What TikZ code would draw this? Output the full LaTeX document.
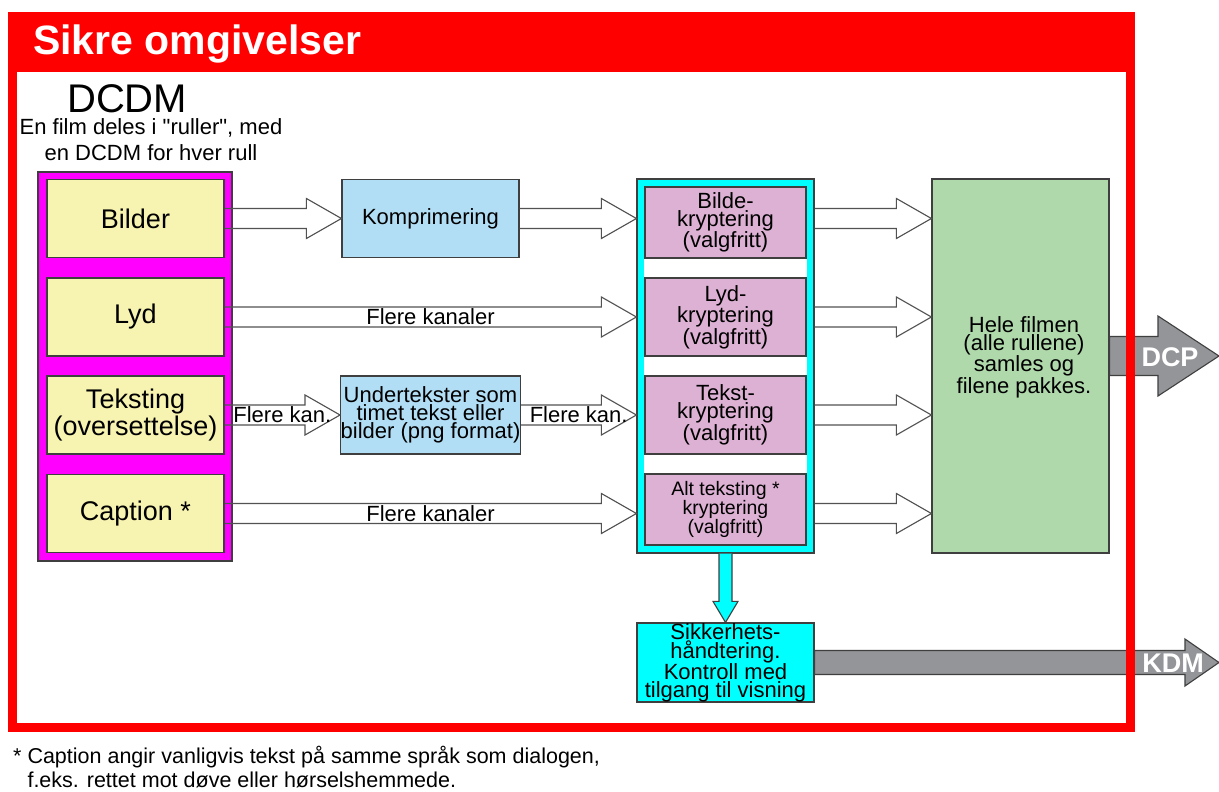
\documentclass[tikz,border=0pt]{standalone}
\usepackage{fontspec}
\setmainfont{Liberation Sans}[Ligatures=TeXOff]
\usetikzlibrary{calc}

\definecolor{sikred}{HTML}{FF0000}
\definecolor{dcdmpink}{HTML}{FF00FF}
\definecolor{kildegul}{HTML}{F7F3B1}
\definecolor{prosblaa}{HTML}{B2DEF5}
\definecolor{kryptcyan}{HTML}{00FFFF}
\definecolor{kryptrosa}{HTML}{DDB1D4}
\definecolor{pakkegronn}{HTML}{AFD8AB}
\definecolor{utgraa}{HTML}{939598}
\definecolor{kant}{HTML}{3F3F3F}

\newcommand{\fsz}[2]{\fontsize{#1}{#2}\selectfont}

% hollow arrow along one row, optional label on the shaft
\newcommand{\hollowarrow}[3][]{%
  \draw[hollow] ($(#2)+(0,-10)$) -- ($(#3)+(-35,-10)$) -- ($(#3)+(-35,-20)$)
    -- (#3) -- ($(#3)+(-35,20)$) -- ($(#3)+(-35,10)$) -- ($(#2)+(0,10)$);
  \if\relax\detokenize{#1}\relax\else
    \path (#2) -- (#3) node[midway, lbl] {#1};
  \fi
}

% filled grey arrow: from, to, shaft half, head half, head length
\newcommand{\fatarrow}[5]{%
  \draw[solidarr] ($(#1)+(0,-#3)$) -- ($(#2)+(-#5,-#3)$) -- ($(#2)+(-#5,-#4)$)
    -- (#2) -- ($(#2)+(-#5,#4)$) -- ($(#2)+(-#5,#3)$) -- ($(#1)+(0,#3)$) -- cycle;
}

\begin{document}
\begin{tikzpicture}
  [
    x=1pt, y=-1pt,
    box/.style={draw=kant, line width=1.2pt, inner sep=0pt, align=center, font=\fsz{22}{18}},
    kilde/.style={box, fill=kildegul, minimum width=177pt, minimum height=78pt, font=\fsz{27}{23}},
    prosess/.style={box, fill=prosblaa, minimum width=177pt, minimum height=78pt},
    kryptboks/.style={box, fill=kryptrosa, minimum width=161pt},
    hollow/.style={draw=kant!90, line width=1.1pt},
    solidarr/.style={draw=kant, fill=utgraa, line width=1.1pt},
    lbl/.style={inner sep=0pt, font=\fsz{22}{22}},
    utlbl/.style={inner sep=0pt, text=white, font=\bfseries\fsz{27}{27}}
  ]
  \useasboundingbox[fill=white] (0,0) rectangle (1219,792);

  % DCDM
  \node [anchor=base west, inner sep=0pt, font=\fsz{40}{40}] (dcdmtittel) at (67,112) {DCDM};
  \node [align=center, inner sep=0pt, font=\fsz{22}{26}] (dcdmtekst) at (151,140)
    {En film deles i "ruller", med\\en DCDM for hver rull};
  \node [draw=kant, fill=dcdmpink, line width=1.2pt, minimum width=194pt, minimum height=389pt]
    (dcdmramme) at (135,366.5) {};
  \node [kilde] (bilder) at (135.5,218.5) {Bilder};
  \node [kilde] (lyd) at (135.5,317) {Lyd};
  \node [kilde] (teksting) at (135.5,415) {Teksting\\(oversettelse)};
  \node [kilde] (caption) at (135.5,513.5) {Caption *};

  % behandling
  \node [prosess] (kompr) at (430.5,218.5) {Komprimering};
  \node [prosess] (undertekst) at (430.5,415) {Undertekster som\\timet tekst eller\\bilder (png format)};

  % kryptering
  \node [draw=kant, fill=kryptcyan, line width=1.2pt, minimum width=177pt, minimum height=374pt]
    (krypt) at (725.5,366) {};
  \fill [white] ($(krypt.north west)+(8,8)$) rectangle ($(krypt.south east)+(-8,-8)$);
  \node [kryptboks, minimum height=71pt] (bildekr) at (725.5,222.5) {Bilde-\\kryptering\\(valgfritt)};
  \node [kryptboks, minimum height=78pt] (lydkr) at (725.5,317) {Lyd-\\kryptering\\(valgfritt)};
  \node [kryptboks, minimum height=78pt] (tekstkr) at (725.5,415) {Tekst-\\kryptering\\(valgfritt)};
  \node [kryptboks, minimum height=71pt, font=\fsz{19.5}{16}] (altkr) at (725.5,509.5)
    {Alt teksting *\\kryptering\\(valgfritt)};

  % pakking
  \node [box, fill=pakkegronn, minimum width=177pt, minimum height=374pt] (pakke) at (1020.5,366) {};
  \node [align=center, inner sep=0pt, font=\fsz{22}{18}] (pakketekst) at (1024,357)
    {Hele filmen\\(alle rullene)\\samles og\\filene pakkes.};

  % sikkerhet
  \node [box, fill=kryptcyan, minimum width=177pt, minimum height=79pt, font=\fsz{22}{17.7}]
    (sikker) at (725.5,662.5) {Sikkerhets-\\håndtering.\\Kontroll med\\tilgang til visning};

  % piler
  \hollowarrow{bilder.east}{kompr.west}
  \hollowarrow{kompr.east}{krypt.west |- kompr.east}
  \hollowarrow[Flere kanaler]{lyd.east}{krypt.west |- lyd.east}
  \hollowarrow[Flere kan.]{teksting.east}{undertekst.west}
  \hollowarrow[Flere kan.]{undertekst.east}{krypt.west |- undertekst.east}
  \hollowarrow[Flere kanaler]{caption.east}{krypt.west |- caption.east}
  \foreach \rad in {bilder,lyd,teksting,caption} {
    \hollowarrow{krypt.east |- \rad.east}{pakke.west |- \rad.east}
  }
  \draw [draw=kant, fill=kryptcyan, line width=1.1pt]
    ($(krypt.south)+(-6.5,0)$) -- ($(sikker.north)+(-6.5,-21)$) -- ($(sikker.north)+(-12.5,-21)$)
    -- (sikker.north) -- ($(sikker.north)+(12.5,-21)$) -- ($(sikker.north)+(6.5,-21)$)
    -- ($(krypt.south)+(6.5,0)$);

  % ut
  \coordinate (dcpspiss) at (1219,356);
  \coordinate (kdmspiss) at (1219,662.5);
  \fatarrow{pakke.east |- dcpspiss}{dcpspiss}{19.5}{40}{61}
  \fatarrow{sikker.east}{kdmspiss}{12}{23.5}{34}
  \node [utlbl] (dcp) at (1170,357) {DCP};
  \node [utlbl] (kdm) at (1173,663) {KDM};

  % sikre omgivelser
  \fill [sikred] (8,12) rectangle (1135,72);
  \draw [sikred, line width=9pt] (12.5,16.5) rectangle (1130.5,727.5);
  \node [anchor=base west, inner sep=0pt, text=white, font=\bfseries\fsz{41}{41}] (tittel) at (33,55)
    {Sikre omgivelser};

  % fotnote
  \node [anchor=base west, align=left, inner sep=0pt, font=\fsz{21.5}{24}] (fotnote) at (13,787)
    {* Caption angir vanligvis tekst på samme språk som dialogen,\\\hphantom{* }f.eks. rettet mot døve eller hørselshemmede.};
\end{tikzpicture}
\end{document}
